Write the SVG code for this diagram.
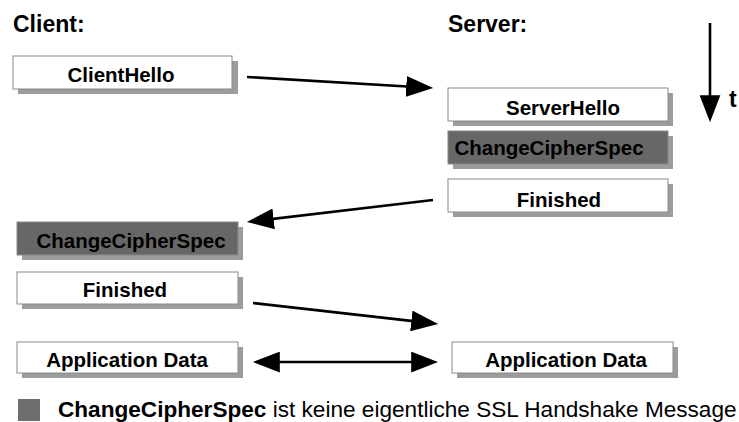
<svg xmlns="http://www.w3.org/2000/svg" width="739" height="422" viewBox="0 0 739 422">
<style>
text{font-family:"Liberation Sans",Arial,sans-serif;font-weight:bold;fill:#000}
.title{font-size:23px}
.lbl{font-size:20.5px;text-anchor:middle}
.box{fill:#fff;stroke:#8a8a8a;stroke-width:1}
.dark{fill:#676767;stroke:#8a8a8a;stroke-width:1}
.shadow{fill:#9c9c9c}
.conn{stroke:#000;stroke-width:2.6;fill:none}
.leg{font-size:22.6px}
.norm{font-weight:normal}
</style>
<defs>
<marker id="ah" markerUnits="userSpaceOnUse" markerWidth="27" markerHeight="21" viewBox="0 0 26 20" refX="21" refY="10" orient="auto-start-reverse">
<path d="M0,0 L26,10 L0,20 z" fill="#000"/>
</marker>
</defs>
<rect width="739" height="422" fill="#fff"/>
<text class="title" x="13" y="32">Client:</text>
<text class="title" x="448" y="32">Server:</text>
<g id="clienthello">
<rect class="shadow" x="18" y="61" width="220" height="33"/>
<rect class="box" x="13" y="56" width="219" height="33"/>
<text class="lbl" x="121" y="82">ClientHello</text>
</g>
<g id="serverhello">
<rect class="shadow" x="453" y="93" width="220" height="33"/>
<rect class="box" x="448" y="88" width="220" height="33"/>
<text class="lbl" x="563" y="115">ServerHello</text>
</g>
<g id="server-ccs">
<rect class="shadow" x="453" y="136" width="220" height="33"/>
<rect class="dark" x="448" y="131" width="220" height="33"/>
<text class="lbl" x="549" y="155">ChangeCipherSpec</text>
</g>
<g id="server-finished">
<rect class="shadow" x="453" y="184" width="220" height="33"/>
<rect class="box" x="448" y="179" width="220" height="33"/>
<text class="lbl" x="559" y="207">Finished</text>
</g>
<g id="client-ccs">
<rect class="shadow" x="22" y="227" width="221" height="33"/>
<rect class="dark" x="17" y="222" width="221" height="33"/>
<text class="lbl" x="131" y="248">ChangeCipherSpec</text>
</g>
<g id="client-finished">
<rect class="shadow" x="22" y="277" width="221" height="32"/>
<rect class="box" x="17" y="272" width="221" height="32"/>
<text class="lbl" x="125" y="297">Finished</text>
</g>
<g id="client-appdata">
<rect class="shadow" x="22" y="347" width="221" height="31"/>
<rect class="box" x="17" y="342" width="221" height="31"/>
<text class="lbl" x="127" y="367">Application Data</text>
</g>
<g id="server-appdata">
<rect class="shadow" x="457" y="347" width="221" height="31"/>
<rect class="box" x="452" y="342" width="221" height="31"/>
<text class="lbl" x="566" y="367">Application Data</text>
</g>
<g id="connectors">
<line class="conn" x1="247" y1="77" x2="428" y2="87.7" marker-end="url(#ah)"/>
<line class="conn" x1="433" y1="200" x2="252" y2="221.4" marker-end="url(#ah)"/>
<line class="conn" x1="253" y1="303" x2="433" y2="323.4" marker-end="url(#ah)"/>
<line class="conn" x1="258" y1="362" x2="433" y2="362" marker-start="url(#ah)" marker-end="url(#ah)"/>
<line class="conn" x1="710" y1="23" x2="710" y2="117" marker-end="url(#ah)"/>
</g>
<text class="title" x="729" y="107">t</text>
<g id="legend">
<rect x="18" y="399" width="22" height="22" fill="#6e6e6e"/>
<text class="leg" x="58" y="417">ChangeCipherSpec<tspan class="norm"> ist keine eigentliche SSL Handshake Message</tspan></text>
</g>
</svg>
